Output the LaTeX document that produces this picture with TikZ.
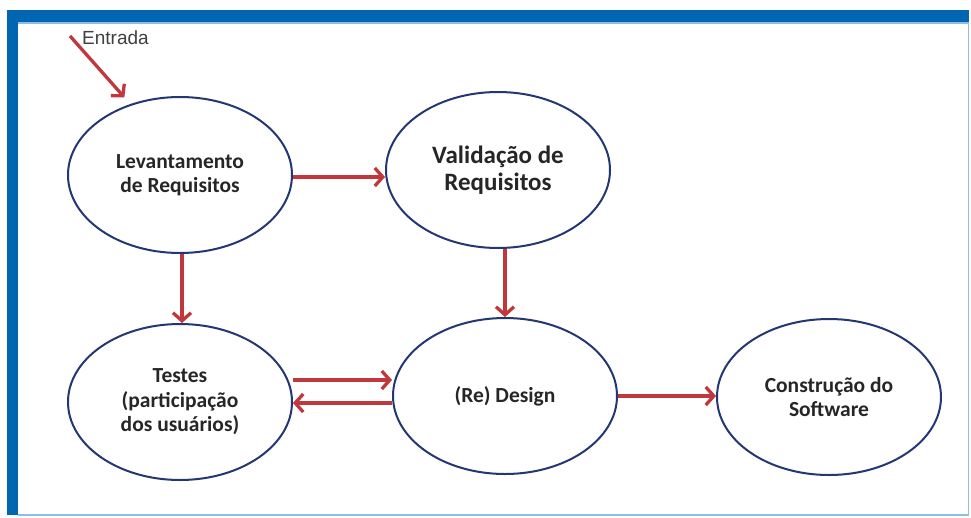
\documentclass[tikz,border=0pt]{standalone}
\usepackage{fontspec}
\setmainfont{Carlito}
\newfontfamily\arialf{Liberation Sans}
\usetikzlibrary{shapes.geometric,arrows.meta}
\definecolor{frameblue}{RGB}{0,102,178}
\definecolor{framelight}{RGB}{140,190,230}
\definecolor{navy}{RGB}{35,55,115}
\definecolor{arrred}{RGB}{192,55,60}
\begin{document}
\begin{tikzpicture}[x=1pt,y=-1pt,
  stage/.style={ellipse, draw=navy, line width=2pt, fill=white,
    minimum width=224pt, minimum height=156pt, inner sep=0pt, align=center,
    font=\fontsize{21.5}{24.5}\selectfont\bfseries, text=black!85},
  arr/.style={draw=arrred, line width=3.3pt, -{Straight Barb[length=8pt,width=18pt]}}]
\useasboundingbox (0,0) rectangle (971,517);
\fill[white] (0,0) rectangle (971,517);
% frame
\fill[frameblue] (7,10) rectangle (18,515);
\fill[frameblue] (7,10) rectangle (969,22);
\draw[framelight, line width=1.2pt] (18,23) -- (968.5,23);
\draw[framelight, line width=1.5pt] (968.5,22) -- (968.5,515) -- (18,515);
% nodes
\node[stage] (lev) at (180,175) {Levantamento\\de Requisitos};
\node[stage, font=\fontsize{25}{27}\selectfont\bfseries] (val) at (498,170) {Validação de\\Requisitos};
\node[stage] (tes) at (180,402) {Testes\\(participação\\dos usuários)};
\node[stage] (des) at (505,396) {(Re) Design};
\node[stage] (con) at (829,397) {Construção do\\Software};
\node[font=\arialf\fontsize{19}{19}\selectfont, text=black!75, anchor=west, inner sep=0pt] (entr) at (82,38) {Entrada};
\coordinate (ein) at (70,36);
% connectors
\draw[arr, shorten >=9pt] (ein) -- (lev.125);
\draw[arr] ([yshift=-2pt]lev.east) -- ([yshift=-2pt]lev.east -| val.west);
\draw[arr] (val.south -| des.north) -- (des.north);
\draw[arr] ([xshift=2pt]lev.south) -- ([xshift=2pt]tes.north);
\draw[arr] ([yshift=22pt]tes.east) -- ([yshift=22pt]tes.east -| des.west);
\draw[arr] ([yshift=-7pt]des.west) -- ([yshift=-1pt]tes.east);
\draw[arr] (des.east) -- (des.east -| con.west);
\end{tikzpicture}
\end{document}
